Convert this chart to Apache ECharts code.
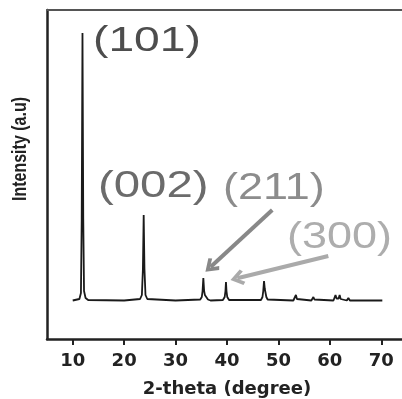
<!DOCTYPE html>
<html>
<head>
<meta charset="utf-8">
<script src="https://cdn.jsdelivr.net/npm/echarts@6/dist/echarts.min.js"></script>
<style>html,body{margin:0;padding:0;background:#fff;overflow:hidden}#c{width:402px;height:399px}</style>
</head>
<body>
<div id="c"></div>
<script>
// 2-theta positions (degree) of the traced pattern
const twoTheta = [10.0, 11.3, 11.6, 11.75, 11.9, 12.05, 12.2, 12.5, 13, 20, 23.1, 23.45, 23.65, 23.8, 23.95, 24.15, 24.5, 30, 34.8, 35.1, 35.25, 35.4, 35.55, 35.7, 35.85, 36.0, 36.3, 36.8, 39.2, 39.55, 39.7, 39.8, 39.9, 40.05, 40.4, 46.6, 46.9, 47.05, 47.2, 47.35, 47.5, 47.65, 47.9, 52.9, 53.2, 53.4, 53.6, 53.9, 56.4, 56.6, 56.8, 57.0, 57.3, 60.7, 60.95, 61.1, 61.3, 61.5, 61.7, 61.9, 62.1, 62.4, 63.3, 63.6, 63.9, 64.6, 64.9, 65.2, 66.2, 66.5, 66.8, 67.9, 68.2, 68.5, 70.2];
// intensity (a.u.)
const intensity = [38.5, 40, 46, 120, 306, 120, 48, 41, 39, 38.5, 40, 44, 70, 124, 70, 44, 40, 38.5, 39.5, 42, 48, 61, 48, 44, 46, 42, 39.5, 38.5, 39, 42, 48, 57, 48, 42, 39, 39, 42, 48, 58, 50, 46, 42, 39.5, 38.5, 40, 44, 40, 38.5, 38.5, 39.5, 42, 39.5, 38.5, 38.5, 40, 44, 40.5, 40, 40.5, 44, 40, 38.5, 38.5, 41, 38.5, 38.5, 40, 38.5, 38.5, 40, 38.5, 38.5, 39.5, 38.5, 38.5];
const xTicks = [10, 20, 30, 40, 50, 60, 70];
const peakLabels = ['(101)', '(002)', '(211)', '(300)'];
// arrows: [start, end] in data coords
const arrow211 = [[48.8, 129], [36.8, 72]];
const arrow300 = [[59.7, 83], [42.0, 60.7]];

const chevron = 'path://M10,0 L20,11 L16.5,13.5 L10,6 L3.5,13.5 L0,11 Z';

const chart = echarts.init(document.getElementById('c'));
chart.setOption({
  animation: false,
  grid: { left: 47, width: 360, top: 10, bottom: 60, outerBoundsMode: 'none', containLabel: false },
  xAxis: [{
    type: 'value', min: 5, max: 75,
    axisLine: { onZero: false, lineStyle: { color: '#222', width: 2.5 } },
    axisTick: { customValues: xTicks, length: 6, inside: false, lineStyle: { color: '#222', width: 2 } },
    axisLabel: { customValues: xTicks, margin: 13, fontFamily: 'DejaVu Sans', fontWeight: 'bold', fontSize: 18, color: '#222' },
    splitLine: { show: false },
    name: '2-theta (degree)', nameLocation: 'middle', nameGap: 41,
    nameTextStyle: { fontFamily: 'DejaVu Sans', fontWeight: 'bold', fontSize: 18, color: '#222' }
  }, {
    type: 'value', position: 'top', min: 5, max: 75,
    axisLine: { show: true, onZero: false, lineStyle: { color: '#555', width: 2 } },
    axisTick: { show: false }, axisLabel: { show: false }, splitLine: { show: false }
  }],
  yAxis: {
    type: 'value', min: 0, max: 329, position: 'left',
    axisLine: { show: true, onZero: false, lineStyle: { color: '#222', width: 2.5 } },
    axisTick: { show: false }, axisLabel: { show: false }, splitLine: { show: false }
  },
  series: [{
    type: 'line',
    data: twoTheta.map((t, i) => [t, intensity[i]]),
    showSymbol: false,
    lineStyle: { color: '#1a1a1a', width: 1.8 },
    markLine: {
      silent: true,
      symbol: ['none', chevron],
      symbolSize: [16, 14],
      label: { show: false },
      data: [
        [{ coord: arrow211[0], lineStyle: { color: '#888', width: 4, type: 'solid' }, itemStyle: { color: '#888' } }, { coord: arrow211[1] }],
        [{ coord: arrow300[0], lineStyle: { color: '#aaa', width: 4, type: 'solid' }, itemStyle: { color: '#aaa' } }, { coord: arrow300[1] }]
      ]
    }
  }],
  graphic: [
    { type: 'text', x: 20, y: 149, rotation: Math.PI / 2, scaleY: 1.25, style: { text: 'Intensity (a.u)', fontFamily: 'Liberation Sans', fontWeight: 'bold', fontSize: 16, fill: '#222', align: 'center', verticalAlign: 'middle' } },
    { type: 'text', x: 93, y: 41, scaleX: 1.32, style: { text: peakLabels[0], fontFamily: 'Liberation Sans', fontSize: 35, fill: '#4d4d4d', align: 'left', verticalAlign: 'middle' } },
    { type: 'text', x: 98, y: 187, scaleX: 1.28, style: { text: peakLabels[1], fontFamily: 'Liberation Sans', fontSize: 37, fill: '#6b6b6b', align: 'left', verticalAlign: 'middle' } },
    { type: 'text', x: 223, y: 189, scaleX: 1.25, style: { text: peakLabels[2], fontFamily: 'Liberation Sans', fontSize: 36, fill: '#8c8c8c', align: 'left', verticalAlign: 'middle' } },
    { type: 'text', x: 287, y: 238, scaleX: 1.25, style: { text: peakLabels[3], fontFamily: 'Liberation Sans', fontSize: 36, fill: '#adadad', align: 'left', verticalAlign: 'middle' } }
  ]
});
</script>
</body>
</html>
